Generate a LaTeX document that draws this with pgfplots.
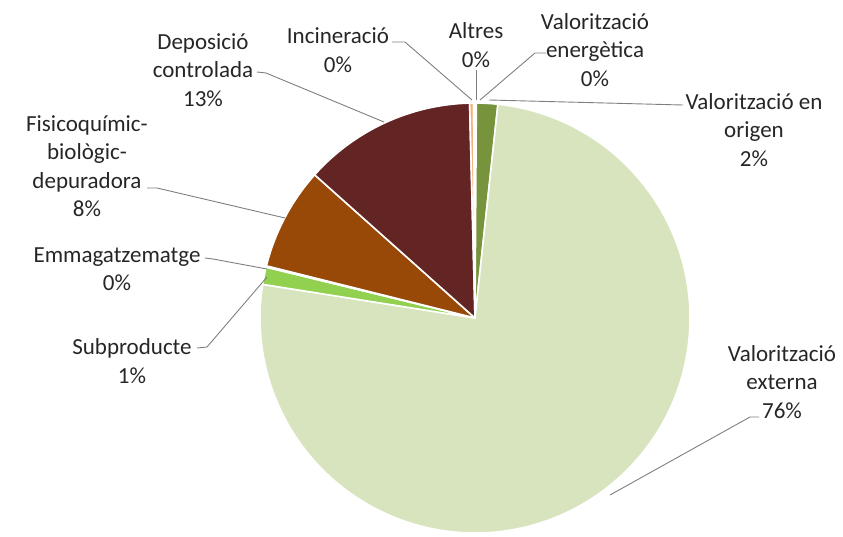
\documentclass[border=0pt]{standalone}
\usepackage{pgfplots}
\pgfplotsset{compat=1.18}
\usepackage{pgfplotstable}
\usepackage{fontspec}
\setmainfont{Carlito}
\definecolor{c1}{HTML}{77933C}
\definecolor{c2}{HTML}{D7E4BD}
\definecolor{c3}{HTML}{92D050}
\definecolor{c4}{HTML}{C3D69B}
\definecolor{c5}{HTML}{984807}
\definecolor{c6}{HTML}{632523}
\definecolor{c7}{HTML}{F5B37C}
\definecolor{c8}{HTML}{BFBFBF}
\definecolor{c9}{HTML}{4F6228}
\definecolor{txt}{HTML}{262626}
\definecolor{lead}{HTML}{7F7F7F}
\pgfplotstableread[col sep=comma]{
name,value,color
energetica,0.1,c9
origen,1.6,c1
externa,75.8,c2
subproducte,1.3,c3
emmagatzematge,0.1,c4
fisico,7.7,c5
deposicio,13.0,c6
incineracio,0.3,c7
altres,0.1,c8
}\piedata
\tikzset{lbl/.style={font=\fontsize{23}{28.5}\selectfont, text=txt, align=center, inner sep=0pt}}
\begin{document}
\begin{tikzpicture}
\begin{axis}[
  scale only axis, width=843pt, height=536pt,
  xmin=0, xmax=843, ymin=0, ymax=536, y dir=reverse,
  enlargelimits=false, hide axis, clip=false,
]
\coordinate (BL) at (axis cs:0,536);
\coordinate (TR) at (axis cs:843,0);
\def\startangle{90}
\pgfplotsforeachungrouped \i in {0,...,8}{%
  \pgfplotstablegetelem{\i}{value}\of\piedata
  \let\slicevalue=\pgfplotsretval
  \pgfplotstablegetelem{\i}{color}\of\piedata
  \let\slicecolor=\pgfplotsretval
  \pgfmathsetmacro\endangle{\startangle-\slicevalue*3.6}%
  \edef\temp{\noexpand\fill[\slicecolor, draw=white, line width=1.6pt, line join=round] (axis cs:475,318) -- ++(\startangle:215pt) arc[start angle=\startangle, end angle=\endangle, radius=215pt] -- cycle;}%
  \temp
  \let\startangle=\endangle
}
% leader lines
\draw[lead, line width=0.9pt] (axis cs:257,72) -- (axis cs:266,73) -- (axis cs:384,122);
\draw[lead, line width=0.9pt] (axis cs:392,42) -- (axis cs:405,42) -- (axis cs:472,100);
\draw[lead, line width=0.9pt] (axis cs:476,70) -- (axis cs:476,100);
\draw[lead, line width=0.9pt] (axis cs:546,53) -- (axis cs:535,53) -- (axis cs:480,100);
\draw[lead, line width=0.9pt] (axis cs:489,100) -- (axis cs:683,105);
\draw[lead, line width=0.9pt] (axis cs:147,188) -- (axis cs:157,188) -- (axis cs:285,218);
\draw[lead, line width=0.9pt] (axis cs:205,258) -- (axis cs:213,259) -- (axis cs:267,269);
\draw[lead, line width=0.9pt] (axis cs:197,348) -- (axis cs:207,347) -- (axis cs:267,277);
\draw[lead, line width=0.9pt] (axis cs:759,417) -- (axis cs:750,417) -- (axis cs:610,495);
% labels
\node[lbl] at (axis cs:203,70) {Deposició\\controlada\\13\%};
\node[lbl] at (axis cs:338,50) {Incineració\\0\%};
\node[lbl] at (axis cs:476,45) {Altres\\0\%};
\node[lbl] at (axis cs:595,50) {Valorització\\energètica\\0\%};
\node[lbl] at (axis cs:754,130) {Valorització en\\origen\\2\%};
\node[lbl] at (axis cs:87,166) {Fisicoquímic-\\biològic-\\depuradora\\8\%};
\node[lbl] at (axis cs:117,269) {Emmagatzematge\\0\%};
\node[lbl] at (axis cs:132,361) {Subproducte\\1\%};
\node[lbl] at (axis cs:782,382) {Valorització\\externa\\76\%};
\end{axis}
\pgfresetboundingbox
\path[use as bounding box] (BL) rectangle (TR);
\end{tikzpicture}
\end{document}
